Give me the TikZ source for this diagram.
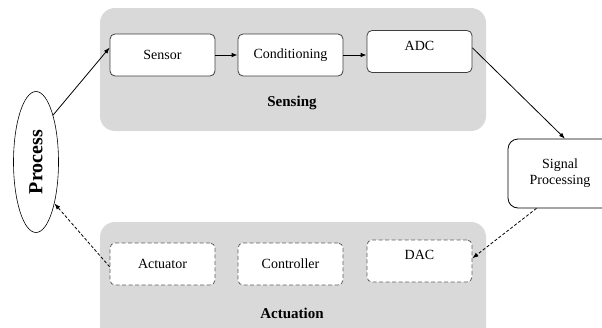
\documentclass[tikz,border=0pt]{standalone}
\usepackage{fontspec}
\setmainfont{Liberation Serif}
\usetikzlibrary{shapes.geometric,arrows.meta}

\definecolor{panelgray}{HTML}{D9D9D9}
\definecolor{framegray}{HTML}{3F3F3F}
\definecolor{dashgray}{HTML}{606060}

\tikzset{
  panel/.style={fill=panelgray, rounded corners=15pt},
  block/.style={draw=framegray, line width=0.8pt, fill=white, rounded corners=5pt,
    minimum width=105pt, minimum height=42pt, font=\fontsize{14}{16}\selectfont},
  dblock/.style={block, draw=dashgray, dash pattern=on 4pt off 2.5pt},
  link/.style={-{Latex[length=6pt,width=4.5pt]}, line width=0.8pt},
  dlink/.style={link, densely dashed},
  paneltitle/.style={font=\fontsize{15}{17}\selectfont\bfseries}
}

\begin{document}
\begin{tikzpicture}[x=1pt,y=-1pt]
    \clip (0,0) rectangle (602,327);
    \fill[white] (0,0) rectangle (602,327);

    % 两个灰色区域
    \fill[panel] (100,8) rectangle (486,131);
    \fill[panel] (100,222) rectangle (486,345);
    \node[paneltitle] (sensing) at (292,103) {Sensing};
    \node[paneltitle] (actuation) at (292,313) {Actuation};

    % 过程
    \node[draw, ellipse, line width=0.6pt, minimum width=45pt, minimum height=141pt,
      inner sep=0pt] (proc) at (36,162)
      {\rotatebox{90}{\fontsize{20}{22}\selectfont\bfseries Process}};

    % 传感部分
    \node[block] (sensor) at (162.5,55) {Sensor};
    \node[block] (cond) at (290.5,55) {Conditioning};
    \node[block, text depth=12pt] (adc) at (419.5,51.5) {ADC};

    % 信号处理
    \node[block, draw=black, align=center, minimum width=104pt, minimum height=69pt,
      rounded corners=10pt] (sigproc) at (560,173.5) {Signal\\Processing};

    % 执行部分
    \node[dblock] (act) at (162.5,264) {Actuator};
    \node[dblock] (ctrl) at (290.5,264) {Controller};
    \node[dblock, text depth=12pt] (dac) at (419.5,261) {DAC};

    % 连线
    \draw[link] (proc.70) -- (sensor.172);
    \draw[link] (sensor.east) -- (cond.west);
    \draw[link] (cond.east) -- (adc.west |- cond.east);
    \draw[link] (adc.4) -- (sigproc.82);
    \draw[dlink] (sigproc.236) -- (dac.3);
    \draw[dlink] (act.183) -- (proc.294);
\end{tikzpicture}
\end{document}
